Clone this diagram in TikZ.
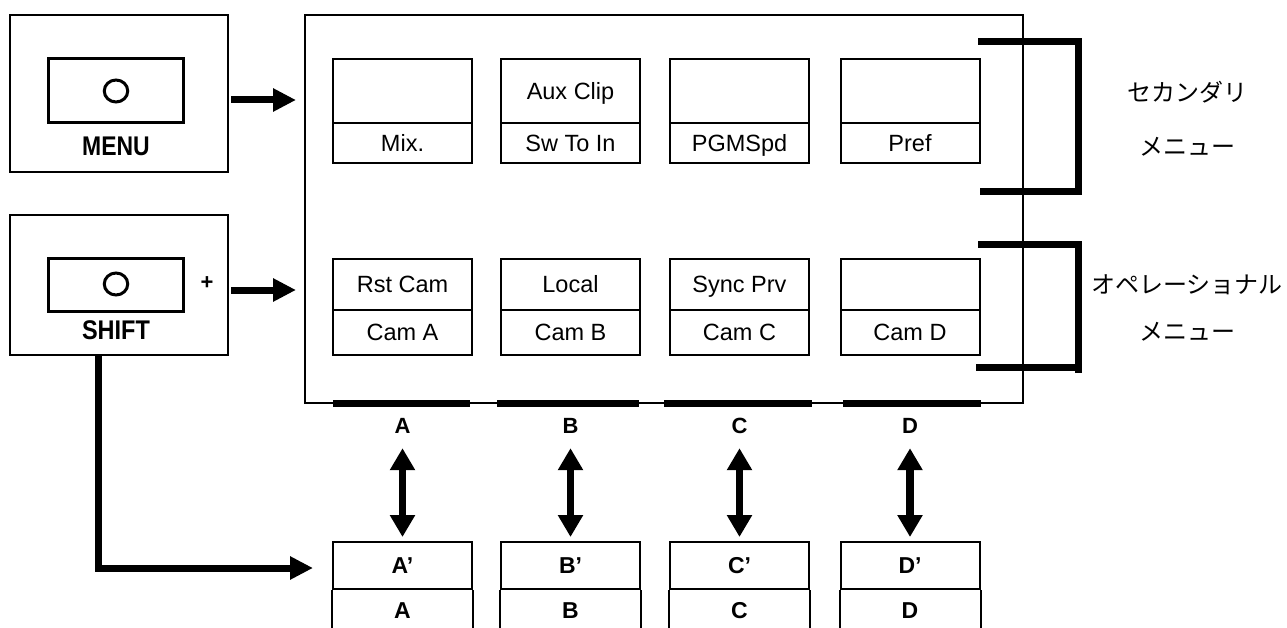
\documentclass[tikz,border=0pt]{standalone}
\usepackage{fontspec}
\setmainfont{Liberation Sans}
\newfontfamily\jpfont{Noto Sans CJK JP}
\usetikzlibrary{arrows.meta,calc}

\tikzset{
  panel/.style={draw, line width=2pt, inner sep=0pt, minimum width=218pt},
  btn/.style={draw, line width=3pt, inner sep=0pt, minimum width=135pt},
  lamp/.style={draw, ellipse, line width=3pt, inner sep=0pt, minimum width=23.5pt, minimum height=22pt},
  capname/.style={inner sep=0pt, text height=19pt, text depth=0pt,
    font=\bfseries\fontsize{27}{27}\selectfont},
  keytxt/.style={text height=16.8pt, text depth=0pt, font=\fontsize{23.5}{23.5}\selectfont},
  cell/.style={draw, line width=2pt, inner sep=0pt, minimum width=139pt, keytxt},
  bcell/.style={draw, line width=2pt, inner sep=0pt, minimum width=139pt,
    minimum height=47pt, text height=16.5pt, text depth=0pt,
    font=\bfseries\fontsize{23}{23}\selectfont},
  btxt/.style={inner sep=0pt, text height=16.5pt, text depth=0pt,
    font=\bfseries\fontsize{23}{23}\selectfont},
  letter/.style={inner sep=0pt, text height=16pt, text depth=0pt,
    font=\bfseries\fontsize{22}{22}\selectfont},
  bar/.style={fill=black, inner sep=0pt, minimum height=7pt},
  bracket/.style={line width=7pt},
  cellside/.style={line width=2pt},
  fatarrow/.style={line width=7pt, -{Triangle[length=23pt,width=22pt]}},
  dblarrow/.style={line width=7.5pt,
    {Triangle[length=22pt,width=24pt]}-{Triangle[length=22pt,width=24pt]}},
  jp/.style={inner sep=0pt, font=\jpfont\fontsize{24}{24}\selectfont},
}

\begin{document}
\begin{tikzpicture}[x=1pt,y=-1pt]
\useasboundingbox (0,0) rectangle (1287,628);

% MENU key
\node[panel, minimum height=157pt] (menupanel) at (119,93.5) {};
\node[btn, minimum height=64pt] (menubtn) at (115.5,91) {};
\draw[line width=3pt] (116,91) circle[x radius=11.75pt, y radius=11pt];
\node[capname] (menuname) at (116,146) {\scalebox{0.85}[1]{MENU}};

% SHIFT key
\node[panel, minimum height=140pt] (shiftpanel) at (119,285) {};
\node[btn, minimum height=52pt] (shiftbtn) at (115.5,285) {};
\draw[line width=3pt] (116,284) circle[x radius=11.75pt, y radius=11pt];
\node[inner sep=0pt, font=\bfseries\fontsize{22}{22}\selectfont] (plus) at (207,283) {+};
\node[capname] (shiftname) at (116,330) {\scalebox{0.87}[1]{SHIFT}};

% display frame
\node[draw, line width=2pt, inner sep=0pt, minimum width=718pt, minimum height=388pt]
  (mainbox) at (664,209) {};

% secondary menu row
\node[cell, minimum height=64pt] (s1u) at (402.5,91) {};
\node[cell, minimum height=40pt] (s1l) at (402.5,143) {Mix.};
\node[cell, minimum height=64pt] (s2u) at (570.5,91) {Aux Clip};
\node[cell, minimum height=40pt] (s2l) at (570.5,143) {Sw To In};
\node[cell, minimum height=64pt] (s3u) at (739.5,91) {};
\node[cell, minimum height=40pt] (s3l) at (739.5,143) {PGMSpd};
\node[cell, minimum height=64pt] (s4u) at (910,91) {};
\node[cell, minimum height=40pt] (s4l) at (910,143) {Pref};

% operational menu row
\node[cell, minimum height=51pt] (o1u) at (402.5,284.5) {Rst Cam};
\node[cell, minimum height=45pt] (o1l) at (402.5,332.5) {Cam A};
\node[cell, minimum height=51pt] (o2u) at (570.5,284.5) {Local};
\node[cell, minimum height=45pt] (o2l) at (570.5,332.5) {Cam B};
\node[cell, minimum height=51pt] (o3u) at (739.5,284.5) {Sync Prv};
\node[cell, minimum height=45pt] (o3l) at (739.5,332.5) {Cam C};
\node[cell, minimum height=51pt] (o4u) at (910,284.5) {};
\node[cell, minimum height=45pt] (o4l) at (910,332.5) {Cam D};

% soft key bars under the display
\node[bar, minimum width=137pt] (barA) at (401.5,403.5) {};
\node[bar, minimum width=142pt] (barB) at (568,403.5) {};
\node[bar, minimum width=148pt] (barC) at (738,403.5) {};
\node[bar, minimum width=138pt] (barD) at (912,403.5) {};

\node[letter] (lblA) at (402.5,425) {A};
\node[letter] (lblB) at (570.5,425) {B};
\node[letter] (lblC) at (739.5,425) {C};
\node[letter] (lblD) at (910,425) {D};

% shifted key assignment
\node[bcell] (kA) at (402.5,565.5) {A’};
\node[bcell] (kB) at (570.5,565.5) {B’};
\node[bcell] (kC) at (739.5,565.5) {C’};
\node[bcell] (kD) at (910,565.5) {D’};
\foreach \k in {kA,kB,kC,kD}{
  \draw[cellside] (\k.south west) -- ++(0,42);
  \draw[cellside] (\k.south east) -- ++(0,42);
}
\node[btxt] (kAl) at (402.5,610) {A};
\node[btxt] (kBl) at (570.5,610) {B};
\node[btxt] (kCl) at (739.5,610) {C};
\node[btxt] (kDl) at (910,610) {D};

% arrows
\draw[fatarrow] ([shift={(2,6.5)}]menupanel.east) -- ([shift={(-8,6.5)}]menupanel.east -| mainbox.west);
\draw[fatarrow] ([shift={(2,5)}]shiftpanel.east) -- ([shift={(-8,5)}]shiftpanel.east -| mainbox.west);
\draw[fatarrow] ([xshift=-21pt]shiftpanel.south) |- ([shift={(-19,2.5)}]kA.west);
\foreach \l/\k in {lblA/kA,lblB/kB,lblC/kC,lblD/kD}
  \draw[dblarrow, shorten <=15pt, shorten >=4pt] (\l.south) -- (\k.north);

% menu brackets
\draw[bracket] (978,42) -- (1078,42) -- (1078,192) -- (980,192);
\draw[bracket] (978,245) -- (1078,245) -- (1078,373);
\draw[bracket] (976,367) -- (1078,367);

\node[jp] (sec1) at (1187,92) {セカンダリ};
\node[jp] (sec2) at (1187,147) {メニュー};
\node[jp] (op1) at (1187,285) {オペレーショナル};
\node[jp] (op2) at (1187,332) {メニュー};
\end{tikzpicture}
\end{document}
